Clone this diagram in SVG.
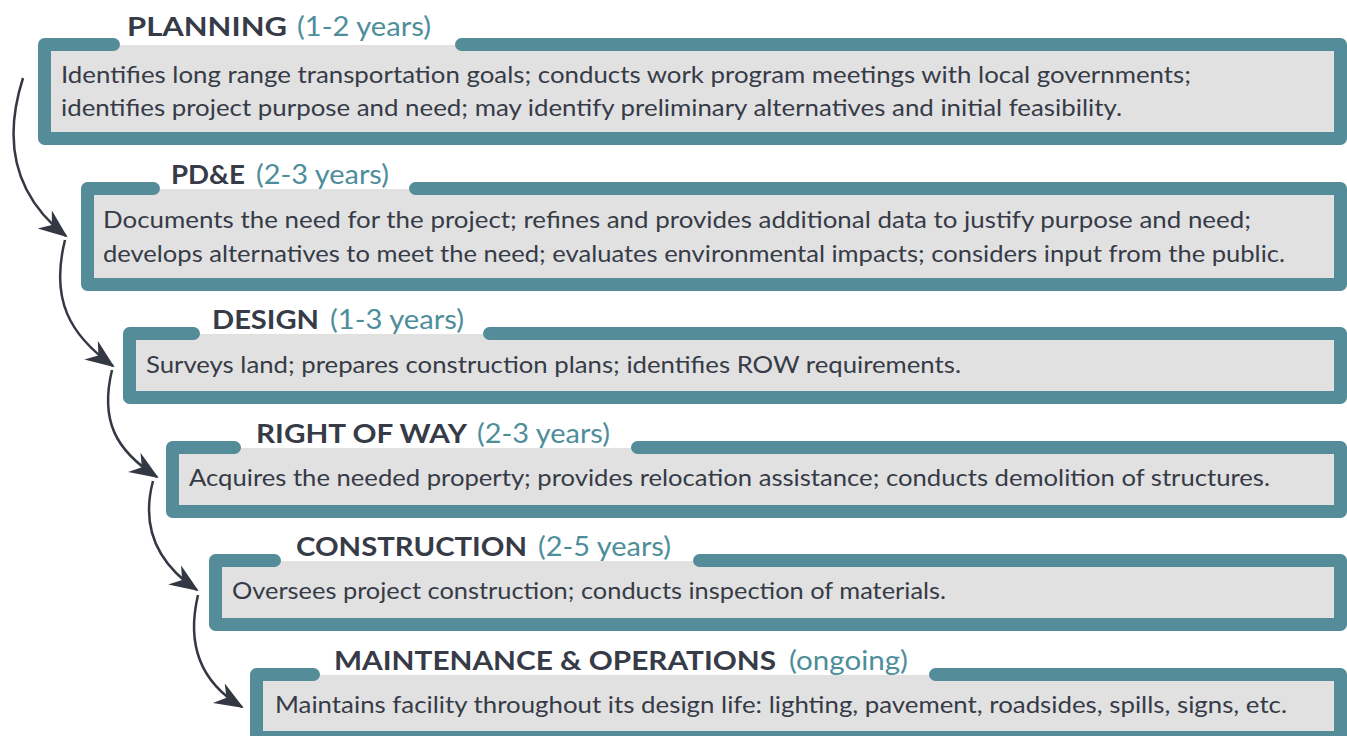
<svg xmlns="http://www.w3.org/2000/svg" width="1347" height="736" viewBox="0 0 1347 736">
<style>
.frame{fill:none;stroke:#548c9a;stroke-width:13;stroke-linecap:round;stroke-linejoin:round}
.panel{fill:#e1e1e1}
.body{font-family:Lato,"Noto Sans","Liberation Sans",sans-serif;font-size:24px;fill:#363b47}
.head{font-family:Lato,"Noto Sans","Liberation Sans",sans-serif;font-size:27px;font-weight:bold;fill:#363b47}
.dur{font-family:Lato,"Noto Sans","Liberation Sans",sans-serif;font-size:27px;fill:#4e8e9b}
.conn{fill:none;stroke:#343843;stroke-width:2.5}
</style>
<defs>
<marker id="arr" markerUnits="userSpaceOnUse" markerWidth="32" markerHeight="26" refX="27" refY="11.5" orient="auto">
<path d="M29 11.5 L0 0 L9 11.5 L0 23 Z" fill="#343843"/>
</marker>
</defs>
<rect width="1347" height="736" fill="#ffffff"/>
<g id="planning">
<rect class="panel" x="51" y="45" width="1284" height="87"/>
<path class="frame" d="M113.5 44.5 H44.5 V138.5 H1340.5 V44.5 H461.5"/>
<text class="head" x="127" y="36" textLength="160" lengthAdjust="spacingAndGlyphs">PLANNING</text>
<text class="dur" x="297" y="36" textLength="134" lengthAdjust="spacingAndGlyphs">(1-2 years)</text>
<text class="body" x="61" y="83" textLength="1130" lengthAdjust="spacingAndGlyphs">Identifies long range transportation goals; conducts work program meetings with local governments;</text>
<text class="body" x="61" y="116" textLength="1061" lengthAdjust="spacingAndGlyphs">identifies project purpose and need; may identify preliminary alternatives and initial feasibility.</text>
</g>
<g id="pde">
<rect class="panel" x="94" y="189" width="1241" height="89"/>
<path class="frame" d="M153.5 188.5 H87.5 V284.5 H1340.5 V188.5 H415.5"/>
<text class="head" x="171" y="184" textLength="74" lengthAdjust="spacingAndGlyphs">PD&amp;E</text>
<text class="dur" x="256" y="184" textLength="133" lengthAdjust="spacingAndGlyphs">(2-3 years)</text>
<text class="body" x="103" y="228" textLength="1148" lengthAdjust="spacingAndGlyphs">Documents the need for the project; refines and provides additional data to justify purpose and need;</text>
<text class="body" x="103" y="262" textLength="1182" lengthAdjust="spacingAndGlyphs">develops alternatives to meet the need; evaluates environmental impacts; considers input from the public.</text>
</g>
<g id="design">
<rect class="panel" x="136" y="334" width="1199" height="57"/>
<path class="frame" d="M193.5 333.5 H129.5 V397.5 H1340.5 V333.5 H489.5"/>
<text class="head" x="212" y="329" textLength="107" lengthAdjust="spacingAndGlyphs">DESIGN</text>
<text class="dur" x="330" y="329" textLength="134" lengthAdjust="spacingAndGlyphs">(1-3 years)</text>
<text class="body" x="146" y="373" textLength="815" lengthAdjust="spacingAndGlyphs">Surveys land; prepares construction plans; identifies ROW requirements.</text>
</g>
<g id="right-of-way">
<rect class="panel" x="179" y="448" width="1156" height="57"/>
<path class="frame" d="M234.5 447.5 H172.5 V511.5 H1340.5 V447.5 H637.5"/>
<text class="head" x="256" y="443" textLength="211" lengthAdjust="spacingAndGlyphs">RIGHT OF WAY</text>
<text class="dur" x="477" y="443" textLength="133" lengthAdjust="spacingAndGlyphs">(2-3 years)</text>
<text class="body" x="189" y="486" textLength="1081" lengthAdjust="spacingAndGlyphs">Acquires the needed property; provides relocation assistance; conducts demolition of structures.</text>
</g>
<g id="construction">
<rect class="panel" x="222" y="561" width="1113" height="57"/>
<path class="frame" d="M274.5 560.5 H215.5 V624.5 H1340.5 V560.5 H699.5"/>
<text class="head" x="296" y="556" textLength="231" lengthAdjust="spacingAndGlyphs">CONSTRUCTION</text>
<text class="dur" x="538" y="556" textLength="133" lengthAdjust="spacingAndGlyphs">(2-5 years)</text>
<text class="body" x="232" y="599" textLength="714" lengthAdjust="spacingAndGlyphs">Oversees project construction; conducts inspection of materials.</text>
</g>
<g id="maintenance">
<rect class="panel" x="263" y="675" width="1072" height="56"/>
<path class="frame" d="M313.5 674.5 H256.5 V737.5 H1340.5 V674.5 H935.5"/>
<text class="head" x="334" y="670" textLength="442" lengthAdjust="spacingAndGlyphs">MAINTENANCE &amp; OPERATIONS</text>
<text class="dur" x="789" y="670" textLength="119" lengthAdjust="spacingAndGlyphs">(ongoing)</text>
<text class="body" x="275" y="713" textLength="1012" lengthAdjust="spacingAndGlyphs">Maintains facility throughout its design life: lighting, pavement, roadsides, spills, signs, etc.</text>
</g>
<g id="connectors">
<path class="conn" marker-end="url(#arr)" d="M23 78 C0 150 20 200 66 236"/>
<path class="conn" marker-end="url(#arr)" d="M65 240 C50 300 70 335 113 366"/>
<path class="conn" marker-end="url(#arr)" d="M112 370 C100 420 115 450 157 477"/>
<path class="conn" marker-end="url(#arr)" d="M153 481 C140 530 160 565 197 590"/>
<path class="conn" marker-end="url(#arr)" d="M198 595 C185 650 205 685 242 707"/>
</g>
</svg>
